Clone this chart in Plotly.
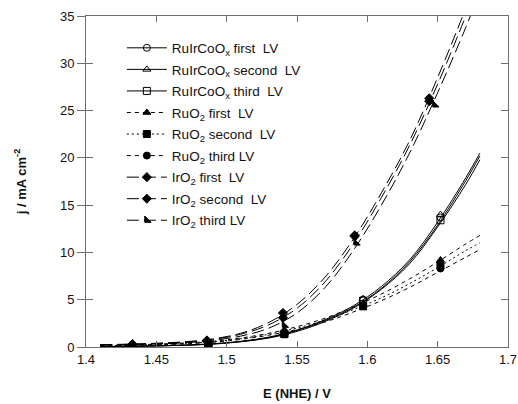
import plotly.graph_objects as go

# ---------------- data ----------------
x_fit = [1.41, 1.43, 1.45, 1.47, 1.49, 1.51, 1.53, 1.55, 1.57, 1.59, 1.61, 1.63, 1.65, 1.67, 1.68]

# RuIrCoOx fitted curves
ruir_first_fit = [0.05, 0.08, 0.12, 0.2, 0.33, 0.58, 1.0, 1.75, 2.8, 4.2, 6.2, 9.0, 12.9, 17.6, 20.2]
ruir_second_fit = [0.05, 0.08, 0.12, 0.2, 0.34, 0.6, 1.05, 1.8, 2.9, 4.35, 6.4, 9.2, 13.2, 17.9, 20.5]
ruir_third_fit = [0.04, 0.07, 0.11, 0.18, 0.3, 0.55, 0.95, 1.65, 2.7, 4.1, 6.1, 8.8, 12.7, 17.2, 19.8]

# RuO2 fitted curves
ruo2_first_fit = [0.15, 0.22, 0.3, 0.42, 0.6, 0.95, 1.45, 2.15, 3.05, 4.25, 5.6, 7.2, 9.0, 10.9, 11.8]
ruo2_second_fit = [0.12, 0.18, 0.26, 0.38, 0.55, 0.88, 1.35, 2.0, 2.85, 3.95, 5.2, 6.7, 8.4, 10.2, 11.0]
ruo2_third_fit = [0.1, 0.15, 0.22, 0.33, 0.5, 0.8, 1.25, 1.85, 2.65, 3.7, 4.9, 6.3, 7.9, 9.5, 10.3]

# IrO2 fitted curves
iro2_first_fit = [0.25, 0.3, 0.4, 0.55, 0.85, 1.45, 2.6, 4.5, 7.4, 11.4, 16.3, 21.8, 28.5, 35.8, 39.5]
iro2_second_fit = [0.22, 0.28, 0.36, 0.5, 0.78, 1.35, 2.35, 4.1, 6.9, 10.9, 15.8, 21.3, 27.8, 35.0, 38.8]
iro2_third_fit = [0.2, 0.25, 0.32, 0.45, 0.7, 1.15, 2.0, 3.6, 6.3, 10.2, 15.0, 20.5, 26.9, 33.8, 37.6]

# measured points
x_pts = [1.433, 1.487, 1.541, 1.597, 1.652]
ruir_first_pts = [0.1, 0.3, 1.4, 5.0, 13.7]
ruir_second_pts = [0.1, 0.3, 1.5, 5.1, 14.0]
ruir_third_pts = [0.05, 0.25, 1.35, 4.9, 13.4]
ruo2_first_pts = [0.2, 0.4, 1.8, 4.6, 9.2]
ruo2_second_pts = [0.05, 0.3, 1.4, 4.3, 8.6]
ruo2_third_pts = [0.1, 0.35, 1.5, 4.4, 8.3]

x_pts_ir = [1.433, 1.486, 1.540, 1.591, 1.644]
x_pts_ir3 = [1.433, 1.487, 1.541, 1.592, 1.648]
iro2_first_pts = [0.3, 0.7, 3.6, 11.8, 26.3]
iro2_second_pts = [0.25, 0.6, 3.1, 11.7, 26.0]
iro2_third_pts = [0.2, 0.5, 2.3, 11.0, 25.6]

names = [
    "RuIrCoO<sub>x</sub> first  LV",
    "RuIrCoO<sub>x</sub> second  LV",
    "RuIrCoO<sub>x</sub> third  LV",
    "RuO<sub>2</sub> first  LV",
    "RuO<sub>2</sub> second  LV",
    "RuO<sub>2</sub> third LV",
    "IrO<sub>2</sub> first  LV",
    "IrO<sub>2</sub> second  LV",
    "IrO<sub>2</sub> third LV",
]

DASH_RU = "4px,4px"
DOT_RU = "2px,3px"
DASH_IR = "12px,5px"

series = [
    (x_fit, ruir_first_fit, x_pts, ruir_first_pts, "solid", "circle-open"),
    (x_fit, ruir_second_fit, x_pts, ruir_second_pts, "solid", "triangle-up-open"),
    (x_fit, ruir_third_fit, x_pts, ruir_third_pts, "solid", "square-open"),
    (x_fit, ruo2_first_fit, x_pts, ruo2_first_pts, DASH_RU, "triangle-up"),
    (x_fit, ruo2_second_fit, x_pts, ruo2_second_pts, DOT_RU, "square"),
    (x_fit, ruo2_third_fit, x_pts, ruo2_third_pts, DASH_RU, "circle"),
    (x_fit, iro2_first_fit, x_pts_ir, iro2_first_pts, DASH_IR, "diamond"),
    (x_fit, iro2_second_fit, x_pts_ir, iro2_second_pts, DASH_IR, "diamond"),
    (x_fit, iro2_third_fit, x_pts_ir3, iro2_third_pts, DASH_IR, "triangle-sw"),
]

FONT = "Liberation Sans, Arial, sans-serif"
AX = "#6e6e6e"

fig = go.Figure()
for i, (xf, yf, xp, yp, dash, sym) in enumerate(series):
    g = "g%d" % i
    fig.add_trace(go.Scatter(x=xf, y=yf, mode="lines", line=dict(color="black", width=1, dash=dash, shape="spline"),
                             legendgroup=g, showlegend=False, hoverinfo="skip"))
    fig.add_trace(go.Scatter(x=xp, y=yp, mode="markers",
                             marker=dict(symbol=sym, size=7, color="black", line=dict(color="black", width=1)),
                             legendgroup=g, showlegend=False))
    fig.add_trace(go.Scatter(x=[None], y=[None], mode="lines+markers", name=names[i],
                             line=dict(color="black", width=1, dash=dash),
                             marker=dict(symbol=sym, size=7, color="black", line=dict(color="black", width=1)),
                             legendgroup=g, showlegend=True))

# helper trace on overlay axis for inner ticks
fig.add_trace(go.Scatter(x=[None], y=[None], yaxis="y2", showlegend=False, hoverinfo="skip"))

fig.update_layout(
    width=518, height=404,
    margin=dict(l=86, r=10, t=16, b=57),
    paper_bgcolor="white", plot_bgcolor="white",
    font=dict(family=FONT, size=13, color="#111"),
    showlegend=True,
    legend=dict(x=0.085, y=0.95, xanchor="left", yanchor="top", bgcolor="rgba(0,0,0,0)",
                font=dict(family=FONT, size=13.5, color="#111"), tracegroupgap=1, itemwidth=40),
    xaxis=dict(range=[1.4, 1.7], tickvals=[1.4, 1.45, 1.5, 1.55, 1.6, 1.65, 1.7],
               ticktext=["1.4", "1.45", "1.5", "1.55", "1.6", "1.65", "1.7"],
               ticks="inside", ticklen=6, tickcolor=AX, mirror="ticks", showline=True,
               linecolor=AX, linewidth=1, showgrid=False, zeroline=False, automargin=False,
               tickfont=dict(family=FONT, size=13, color="#111"),
               title=dict(text="<b>E (NHE) / V</b>", font=dict(family=FONT, size=13, color="#111"), standoff=23)),
    yaxis=dict(range=[0, 35], tickvals=[0, 5, 10, 15, 20, 25, 30, 35],
               ticks="outside", ticklen=8, tickcolor=AX, showline=True, mirror=True,
               linecolor=AX, linewidth=1, showgrid=False, zeroline=False, automargin=False,
               tickfont=dict(family=FONT, size=13, color="#111"),
               title=dict(text="<b>j / mA cm<sup>-2</sup></b>", font=dict(family=FONT, size=13, color="#111"), standoff=30)),
    yaxis2=dict(range=[0, 35], tickvals=[0, 5, 10, 15, 20, 25, 30, 35], overlaying="y", side="left",
                ticks="inside", ticklen=7, tickcolor=AX, mirror="ticks", showline=False, automargin=False,
                showgrid=False, zeroline=False, showticklabels=False),
)

fig.write_html("out.html", config={"displayModeBar": False},
               post_script="document.body.style.margin='0';")
